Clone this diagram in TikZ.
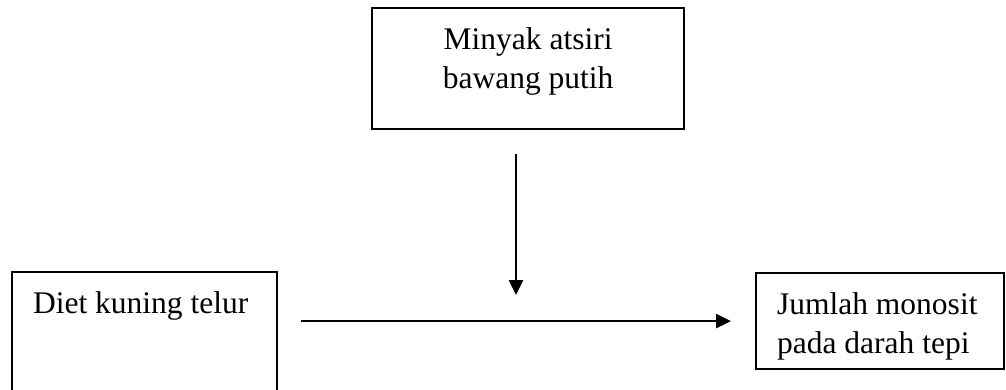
\documentclass[tikz,border=0pt]{standalone}
\usepackage{fontspec}
\setmainfont{Liberation Serif}
\usepackage{tikz}
\usetikzlibrary{arrows.meta}
\newcommand{\FrameText}[3]{%
  \begin{minipage}[t][#2][t]{#1}#3\end{minipage}%
}
\tikzset{
  figure/.style={x=1pt,y=-1pt,font=\fontsize{31.5pt}{39pt}\selectfont,text=black},
  frame/.style={draw=black,line width=2.2pt,anchor=north west,inner xsep=21pt,inner ysep=0pt},
  flow/.style={-{Triangle[length=15pt,width=14pt]},line width=2.6pt,draw=black},
}
\begin{document}
\begin{tikzpicture}[figure]
  \useasboundingbox (0,0) rectangle (1006,390);
  \clip (0,0) rectangle (1006,390);

  \node[frame] (minyak) at (371,7)
    {\FrameText{270pt}{121pt}{\centering\rule{0pt}{41pt}Minyak atsiri\\bawang putih}};
  \node[frame] (diet) at (11,271)
    {\FrameText{223pt}{140pt}{\raggedright\rule{0pt}{41pt}Diet kuning telur}};
  \node[frame] (jumlah) at (755,272)
    {\FrameText{206pt}{96pt}{\raggedright\rule{0pt}{41pt}Jumlah monosit\\pada darah tepi}};

  \coordinate (meet) at (516,320);
  \draw[flow,shorten <=23pt,shorten >=24pt] (diet.east |- jumlah.west) -- (jumlah.west);
  \draw[flow,shorten <=24pt,shorten >=25pt] (minyak.south -| meet) -- (meet);
\end{tikzpicture}
\end{document}
